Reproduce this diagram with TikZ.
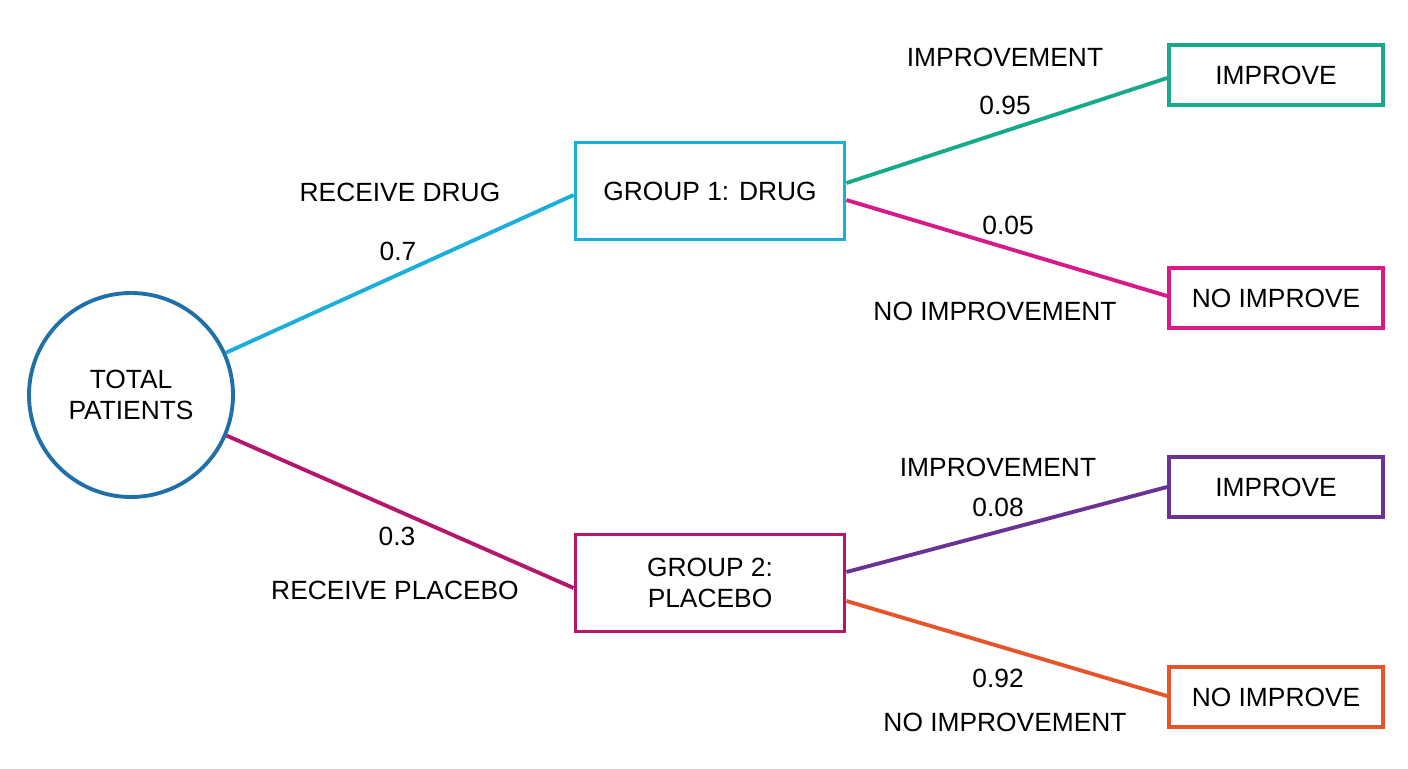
\documentclass[tikz,border=0pt]{standalone}
\usepackage{fontspec}
\setmainfont{Liberation Sans}
\usetikzlibrary{positioning}
\definecolor{cRoot}{HTML}{1F6FA8}
\definecolor{cDrug}{HTML}{1AAEDC}
\definecolor{cPlac}{HTML}{B5166B}
\definecolor{cImpA}{HTML}{16A98A}
\definecolor{cNoA}{HTML}{D9198A}
\definecolor{cImpB}{HTML}{6A3393}
\definecolor{cNoB}{HTML}{E8542A}
\tikzset{
	leaf/.style={draw=#1,line width=2.2pt,minimum width=214*0.02cm,minimum height=60*0.02cm,inner sep=0pt},
	group/.style={draw=#1,line width=2.2pt,minimum width=269*0.02cm,minimum height=97*0.02cm,inner sep=0pt,align=center},
	branch/.style={draw=#1,line width=2.2pt},
	lbl/.style={inner sep=0pt}
}
\begin{document}
\begin{tikzpicture}[x=0.02cm,y=-0.02cm,font=\fontsize{15}{18}\selectfont]
      \useasboundingbox (0,0) rectangle (1408,768);
      \node [circle,draw=cRoot,line width=2.2pt,minimum size=204*0.02cm,align=center,inner sep=0pt] (root) at (131,395) {TOTAL\\PATIENTS};
      \node [group=cDrug] (g1) at (710,191) {GROUP 1: DRUG};
      \node [group=cPlac] (g2) at (710,583) {GROUP 2:\\PLACEBO};
      \node [leaf=cImpA] (i1) at (1276,75) {IMPROVE};
      \node [leaf=cNoA] (n1) at (1276,298) {NO IMPROVE};
      \node [leaf=cImpB] (i2) at (1276,487) {IMPROVE};
      \node [leaf=cNoB] (n2) at (1276,697) {NO IMPROVE};
      \draw [branch=cDrug] (root.24) -- ([yshift=-4*0.02cm]g1.west);
      \draw [branch=cPlac] (root.-23) -- ([yshift=-5*0.02cm]g2.west);
      \draw [branch=cImpA] ([yshift=8*0.02cm]g1.east) -- ([yshift=-3*0.02cm]i1.west);
      \draw [branch=cNoA] ([yshift=-9*0.02cm]g1.east) -- ([yshift=2*0.02cm]n1.west);
      \draw [branch=cImpB] ([yshift=11*0.02cm]g2.east) -- (i2.west);
      \draw [branch=cNoB] ([yshift=-18*0.02cm]g2.east) -- ([yshift=1*0.02cm]n2.west);
      \node [lbl] (l1) at (400,192) {RECEIVE DRUG};
      \node [lbl] (p1) at (398,251) {0.7};
      \node [lbl] (p2) at (397,536) {0.3};
      \node [lbl] (l2) at (395,590) {RECEIVE PLACEBO};
      \node [lbl] (l3) at (1005,57) {IMPROVEMENT};
      \node [lbl] (p3) at (1005,105) {0.95};
      \node [lbl] (p4) at (1008,225) {0.05};
      \node [lbl] (l4) at (995,311) {NO IMPROVEMENT};
      \node [lbl] (l5) at (998,467) {IMPROVEMENT};
      \node [lbl] (p5) at (998,507) {0.08};
      \node [lbl] (p6) at (998,678) {0.92};
      \node [lbl] (l6) at (1005,722) {NO IMPROVEMENT};
\end{tikzpicture}
\end{document}
